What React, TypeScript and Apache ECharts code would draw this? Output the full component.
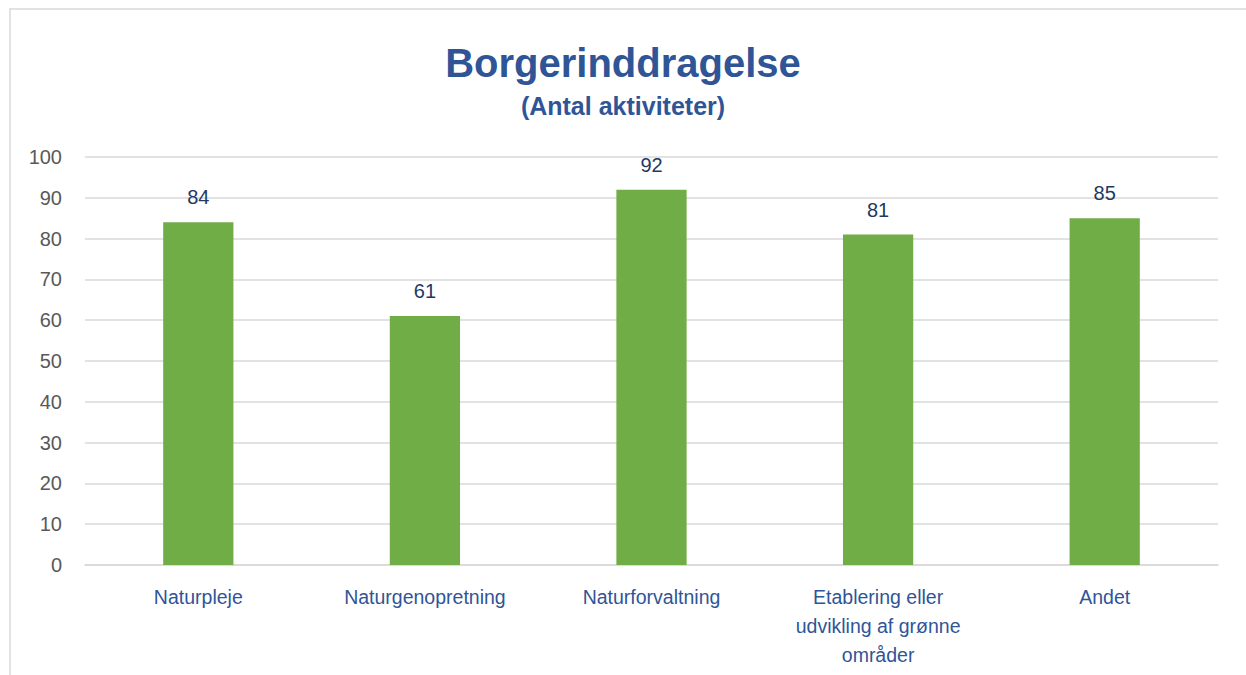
import React, { useEffect, useRef } from "react";
import * as echarts from "echarts";

const categories = [
  "Naturpleje",
  "Naturgenopretning",
  "Naturforvaltning",
  "Etablering eller\nudvikling af grønne\nområder",
  "Andet",
];
const values = [84, 61, 92, 81, 85];
const yMin = 0;
const yMax = 100;
const yInterval = 10;

const FONT = "'Liberation Sans', 'Open Sans', sans-serif";

export default function App() {
  const ref = useRef<HTMLDivElement>(null);
  useEffect(() => {
    if (!ref.current) return;
    const chart = echarts.init(ref.current, undefined, { renderer: "svg" });
    chart.setOption({
      animation: false,
      backgroundColor: "#ffffff",
      title: [
        {
          text: "Borgerinddragelse",
          left: "center",
          top: 38,
          textStyle: {
            fontFamily: FONT,
            fontWeight: "bold",
            fontSize: 40,
            color: "#2F5597",
          },
        },
        {
          text: "(Antal aktiviteter)",
          left: "center",
          top: 88,
          textStyle: {
            fontFamily: FONT,
            fontWeight: "bold",
            fontSize: 25,
            color: "#2F5597",
          },
        },
      ],
      graphic: [
        {
          type: "rect",
          shape: { x: 10, y: 9, width: 1300, height: 700 },
          style: { fill: "none", stroke: "#D9D9D9", lineWidth: 1.5 },
          silent: true,
        },
      ],
      grid: { left: 85, right: 28, top: 157, bottom: 110, containLabel: false },
      xAxis: {
        type: "category",
        data: categories,
        axisLine: { show: true, lineStyle: { color: "#D9D9D9", width: 1.5 } },
        axisTick: { show: false },
        axisLabel: {
          interval: 0,
          margin: 17,
          fontFamily: FONT,
          fontSize: 19.5,
          lineHeight: 29,
          color: "#2F5597",
          align: "center",
        },
      },
      yAxis: {
        type: "value",
        min: yMin,
        max: yMax,
        interval: yInterval,
        axisLine: { show: false },
        axisTick: { show: false },
        splitLine: { lineStyle: { color: "#D9D9D9", width: 1.5 } },
        axisLabel: {
          margin: 23,
          fontFamily: FONT,
          fontSize: 20,
          color: "#595959",
        },
      },
      series: [
        {
          type: "bar",
          data: values,
          barWidth: "31%",
          itemStyle: { color: "#70AD47" },
          label: {
            show: true,
            position: "top",
            distance: 15,
            fontFamily: FONT,
            fontSize: 20,
            color: "#1F3864",
          },
        },
      ],
    });
    return () => chart.dispose();
  }, []);
  return (
    <div
      ref={ref}
      style={{ position: "fixed", left: 0, top: 0, width: 1246, height: 675 }}
    />
  );
}
